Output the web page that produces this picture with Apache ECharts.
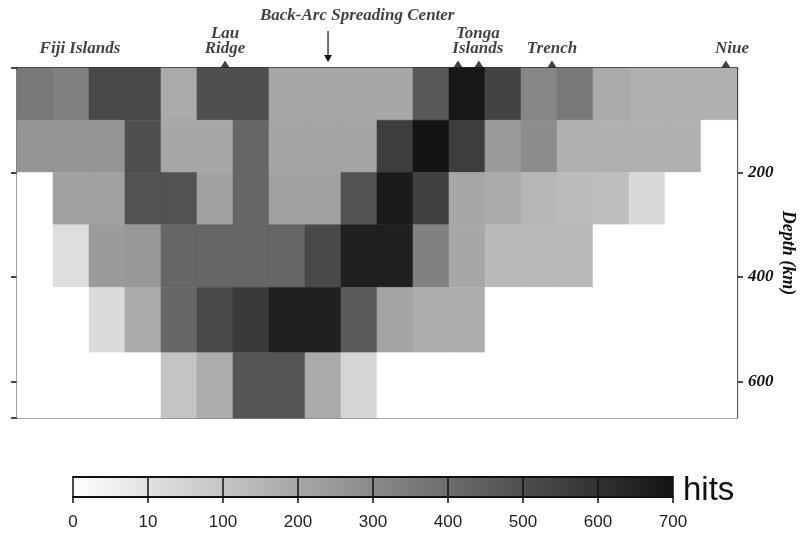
<!DOCTYPE html>
<html>
<head>
<meta charset="utf-8">
<script src="https://cdn.jsdelivr.net/npm/echarts@6/dist/echarts.min.js"></script>
<style>
  html, body { margin: 0; padding: 0; background: #ffffff; }
  #chart { width: 801px; height: 535px; }
</style>
</head>
<body>
<div id="chart"></div>
<script>
// Ray hits per cell along the Fiji – Tonga – Niue section.
// 20 columns along the profile, 6 depth layers (km).
const layerTops    = [0, 100, 200, 300, 420, 545];
const layerBottoms = [100, 200, 300, 420, 545, 670];

const hitsLayer1 = [360, 330, 520, 520, 190, 500, 500, 200, 200, 200, 200, 470, 690, 540, 310, 360, 190, 170, 170, 170];
const hitsLayer2 = [260, 260, 260, 500, 200, 200, 420, 210, 210, 210, 560, 700, 560, 240, 290, 170, 170, 170, 170, 0];
const hitsLayer3 = [0, 220, 220, 490, 490, 220, 420, 220, 220, 490, 680, 550, 200, 190, 150, 130, 120, 40, 0, 0];
const hitsLayer4 = [0, 20, 240, 250, 420, 420, 420, 420, 520, 660, 660, 330, 200, 140, 140, 140, 0, 0, 0, 0];
const hitsLayer5 = [0, 0, 30, 190, 420, 520, 570, 660, 660, 460, 210, 180, 180, 0, 0, 0, 0, 0, 0, 0];
const hitsLayer6 = [0, 0, 0, 0, 100, 180, 480, 480, 190, 50, 0, 0, 0, 0, 0, 0, 0, 0, 0, 0];

// Colour scale ticks (equally spaced on the bar)
const colorbarTicks = [0, 10, 100, 200, 300, 400, 500, 600, 700];

// Depth axis ticks
const depthTicks = [0, 200, 400, 600];

// Surface features along the profile (column units)
const placeNames = ['Fiji Islands', 'Lau\nRidge', 'Back-Arc Spreading Center', 'Tonga\nIslands', 'Trench', 'Niue'];
const placeCols  = [1.75, 5.78, 9.45, 12.8, 14.86, 19.86];
const stationCols = [5.78, 12.25, 12.83, 14.86, 19.69];
const spreadingCenterCol = 8.64;

const hitLayers = [hitsLayer1, hitsLayer2, hitsLayer3, hitsLayer4, hitsLayer5, hitsLayer6];

// Position of a hit count on the colour bar (0..8, one unit per tick interval)
function barPosition(v) {
  for (let i = 0; i < colorbarTicks.length - 1; i++) {
    const a = colorbarTicks[i], b = colorbarTicks[i + 1];
    if (v <= b) return i + (v - a) / (b - a);
  }
  return colorbarTicks.length - 1;
}

const cells = [];
hitLayers.forEach((row, r) => {
  row.forEach((h, c) => {
    cells.push([c, layerTops[r], layerBottoms[r], h, barPosition(h)]);
  });
});

const LIGHT = '#ffffff';
const DARK = '#141414';
const serifFont = 'Liberation Serif';

const chart = echarts.init(document.getElementById('chart'), null, { renderer: 'canvas' });

chart.setOption({
  animation: false,
  backgroundColor: '#ffffff',
  grid: [
    { left: 17, top: 68, width: 720, height: 350, outerBoundsMode: 'none', containLabel: false,
      show: true, borderColor: '#111', borderWidth: 1, backgroundColor: 'transparent' },
    { left: 73, top: 477, width: 600, height: 20, outerBoundsMode: 'none', containLabel: false,
      show: false }
  ],
  graphic: [
    {
      // Colour bar unit
      type: 'text', left: 683, top: 474, z: 10,
      style: { text: 'hits', font: '33px "Liberation Sans"', fill: '#111' }
    }
  ],
  xAxis: [
    {
      gridIndex: 0, type: 'value', min: 0, max: 20, position: 'bottom',
      axisLine: { show: true, lineStyle: { color: '#111', width: 2.5 } },
      axisTick: { show: false }, axisLabel: { show: false }, splitLine: { show: false }
    },
    {
      // Colour bar scale, drawn above the gradient
      gridIndex: 1, type: 'value', min: 0, max: colorbarTicks.length - 1, interval: 1, z: 10,
      axisLine: { show: true, onZero: false, lineStyle: { color: '#111', width: 2 } },
      axisTick: { show: true, length: 6, lineStyle: { color: '#111', width: 1.5 } },
      splitLine: { show: true, lineStyle: { color: '#111', width: 1.5 } },
      axisLabel: {
        show: true, margin: 17, color: '#222', fontFamily: 'Liberation Sans', fontSize: 17,
        formatter: (v) => String(colorbarTicks[Math.round(v)])
      }
    },
    {
      // Top edge of the colour bar
      gridIndex: 1, type: 'value', min: 0, max: colorbarTicks.length - 1, position: 'top', z: 10,
      axisLine: { show: true, onZero: false, lineStyle: { color: '#111', width: 2 } },
      axisTick: { show: false }, axisLabel: { show: false }, splitLine: { show: false }
    }
  ],
  yAxis: [
    {
      gridIndex: 0, type: 'value', inverse: true, min: 0, max: 670, interval: 200, position: 'left',
      axisLine: { show: true, onZero: false, lineStyle: { color: '#111', width: 1.2 } },
      axisTick: { show: true, length: 6, lineStyle: { color: '#111', width: 1.5 } },
      axisLabel: { show: false }, splitLine: { show: false }
    },
    {
      gridIndex: 0, type: 'value', inverse: true, min: 0, max: 670, interval: 200, position: 'right',
      axisLine: { show: true, onZero: false, lineStyle: { color: '#111', width: 1.2 } },
      axisTick: { show: true, length: 6, lineStyle: { color: '#111', width: 1.5 } },
      axisLabel: {
        show: true, margin: 11, color: '#111', fontFamily: serifFont, fontStyle: 'italic', fontWeight: 'bold', fontSize: 17,
        showMinLabel: false, showMaxLabel: false,
        formatter: (v) => (depthTicks.indexOf(v) > 0 ? String(v) : '')
      },
      splitLine: { show: false },
      name: 'Depth (km)', nameLocation: 'middle', nameGap: 42, nameRotate: -90, nameMoveOverlap: false,
      nameTextStyle: { fontFamily: serifFont, fontStyle: 'italic', fontWeight: 'bold', fontSize: 18, color: '#111',
        padding: [0, 0, 0, 20] }
    },
    {
      gridIndex: 1, type: 'value', min: 0, max: 1, show: false
    }
  ],
  visualMap: {
    type: 'continuous', show: false, seriesIndex: 0, dimension: 4,
    min: 0, max: colorbarTicks.length - 1,
    inRange: { color: [LIGHT, DARK] }
  },
  series: [
    {
      // Hit-count cells
      name: 'hits', type: 'custom', xAxisIndex: 0, yAxisIndex: 0,
      dimensions: ['col', 'top', 'bottom', 'hits', 'pos'],
      encode: { x: 0, y: [1, 2] },
      data: cells,
      renderItem: function (params, api) {
        const c = api.value(0);
        const p0 = api.coord([c, api.value(1)]);
        const p1 = api.coord([c + 1, api.value(2)]);
        const color = api.visual('color');
        return {
          type: 'rect',
          shape: { x: p0[0], y: p0[1], width: p1[0] - p0[0], height: p1[1] - p0[1] },
          style: { fill: color, stroke: color, lineWidth: 0.6 }
        };
      },
      z: 1
    },
    {
      // Colour bar gradient
      type: 'custom', xAxisIndex: 1, yAxisIndex: 2,
      data: [[0, colorbarTicks.length - 1]],
      renderItem: function (params, api) {
        const a = api.coord([api.value(0), 1]);
        const b = api.coord([api.value(1), 0]);
        return {
          type: 'rect',
          shape: { x: a[0], y: a[1], width: b[0] - a[0], height: b[1] - a[1] },
          style: { fill: new echarts.graphic.LinearGradient(0, 0, 1, 0, [
            { offset: 0, color: LIGHT }, { offset: 1, color: DARK }
          ]) }
        };
      },
      z: -1
    },
    {
      // Station markers on the surface
      type: 'scatter', xAxisIndex: 0, yAxisIndex: 0, clip: false,
      symbol: 'triangle', symbolSize: [9, 7], symbolOffset: [0, -4],
      itemStyle: { color: '#111' },
      data: stationCols.map(c => [c, 0]),
      z: 5
    },
    {
      // Feature names
      type: 'scatter', xAxisIndex: 0, yAxisIndex: 0, clip: false,
      symbolSize: 0,
      data: placeNames.map((n, i) => ({
        value: [placeCols[i], 0],
        label: { formatter: n, distance: n.indexOf('Spreading') >= 0 ? 45 : 12 }
      })),
      label: {
        show: true, position: 'top', color: '#111',
        fontFamily: serifFont, fontStyle: 'italic', fontWeight: 'bold', fontSize: 17, lineHeight: 15
      },
      z: 5
    },
    {
      // Arrow to the spreading center
      type: 'custom', xAxisIndex: 0, yAxisIndex: 0, clip: false,
      data: [[spreadingCenterCol, 0]],
      renderItem: function (params, api) {
        const p = api.coord([api.value(0), api.value(1)]);
        const x = p[0], y = p[1];
        return {
          type: 'group',
          children: [
            { type: 'line', shape: { x1: x, y1: y - 37, x2: x, y2: y - 11 }, style: { stroke: '#111', lineWidth: 1.2 } },
            { type: 'polygon', shape: { points: [[x - 4, y - 13], [x + 4, y - 13], [x, y - 6]] }, style: { fill: '#111' } }
          ]
        };
      },
      z: 5
    }
  ]
});
</script>
</body>
</html>
